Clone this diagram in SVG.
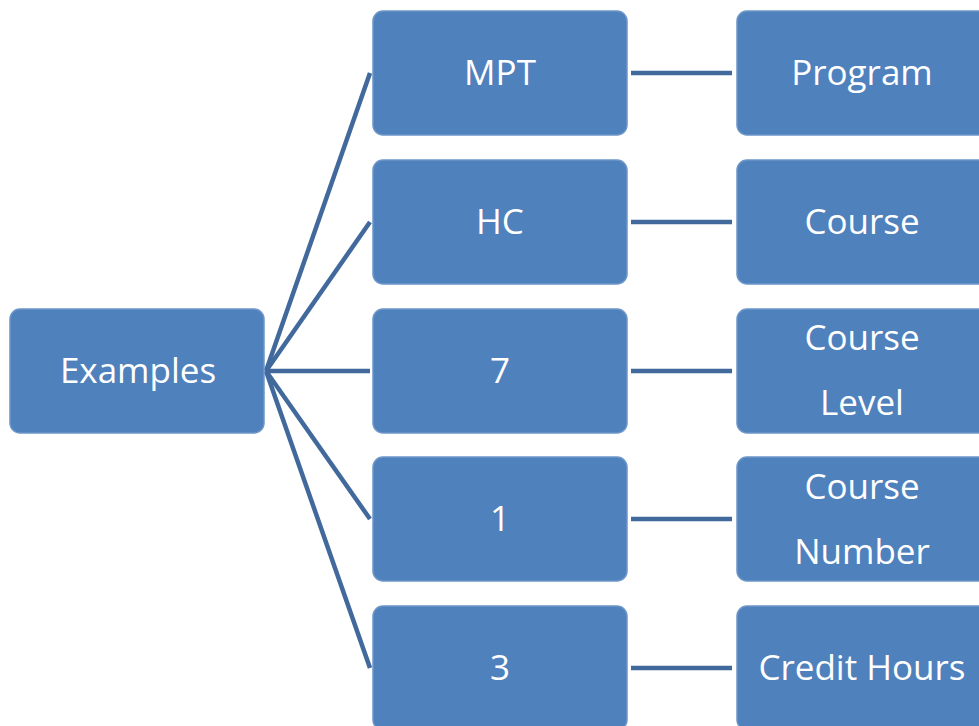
<svg xmlns="http://www.w3.org/2000/svg" width="979" height="726" viewBox="0 0 979 726">
<style>
.box{fill:#4F81BD;stroke:#6C95C8;stroke-width:1.5}
.t{font-family:"Open Sans","Liberation Sans",sans-serif;font-size:35px;fill:#FFFFFF;text-anchor:middle}
.c{stroke:#41699B;stroke-width:4.5;fill:none;stroke-linecap:butt}
</style>
<rect width="979" height="726" fill="#FFFFFF"/>
<g id="connectors">
<line class="c" x1="266" y1="371" x2="370" y2="73"/>
<line class="c" x1="266" y1="371" x2="370" y2="222"/>
<line class="c" x1="266" y1="371" x2="370" y2="371"/>
<line class="c" x1="266" y1="371" x2="370" y2="519"/>
<line class="c" x1="266" y1="371" x2="370" y2="668"/>
<line class="c" x1="631" y1="73" x2="732" y2="73"/>
<line class="c" x1="631" y1="222" x2="732" y2="222"/>
<line class="c" x1="631" y1="371" x2="732" y2="371"/>
<line class="c" x1="631" y1="519" x2="732" y2="519"/>
<line class="c" x1="631" y1="668" x2="732" y2="668"/>
</g>
<g id="examples"><rect class="box" x="10" y="309" width="254" height="124" rx="10"/><text class="t" x="138" y="383">Examples</text></g>
<g id="mpt"><rect class="box" x="373" y="11" width="254" height="124" rx="10"/><text class="t" x="500" y="85">MPT</text></g>
<g id="hc"><rect class="box" x="373" y="160" width="254" height="124" rx="10"/><text class="t" x="500" y="234">HC</text></g>
<g id="n7"><rect class="box" x="373" y="309" width="254" height="124" rx="10"/><text class="t" x="500" y="383">7</text></g>
<g id="n1"><rect class="box" x="373" y="457" width="254" height="124" rx="10"/><text class="t" x="500" y="531">1</text></g>
<g id="n3"><rect class="box" x="373" y="606" width="254" height="124" rx="10"/><text class="t" x="500" y="680">3</text></g>
<g id="program"><rect class="box" x="737" y="11" width="254" height="124" rx="10"/><text class="t" x="862" y="85">Program</text></g>
<g id="course"><rect class="box" x="737" y="160" width="254" height="124" rx="10"/><text class="t" x="862" y="234">Course</text></g>
<g id="courselevel"><rect class="box" x="737" y="309" width="254" height="124" rx="10"/><text class="t" x="862" y="350">Course</text><text class="t" x="862" y="415">Level</text></g>
<g id="coursenumber"><rect class="box" x="737" y="457" width="254" height="124" rx="10"/><text class="t" x="862" y="499">Course</text><text class="t" x="862" y="564">Number</text></g>
<g id="credithours"><rect class="box" x="737" y="606" width="254" height="124" rx="10"/><text class="t" x="862" y="680">Credit Hours</text></g>
</svg>
